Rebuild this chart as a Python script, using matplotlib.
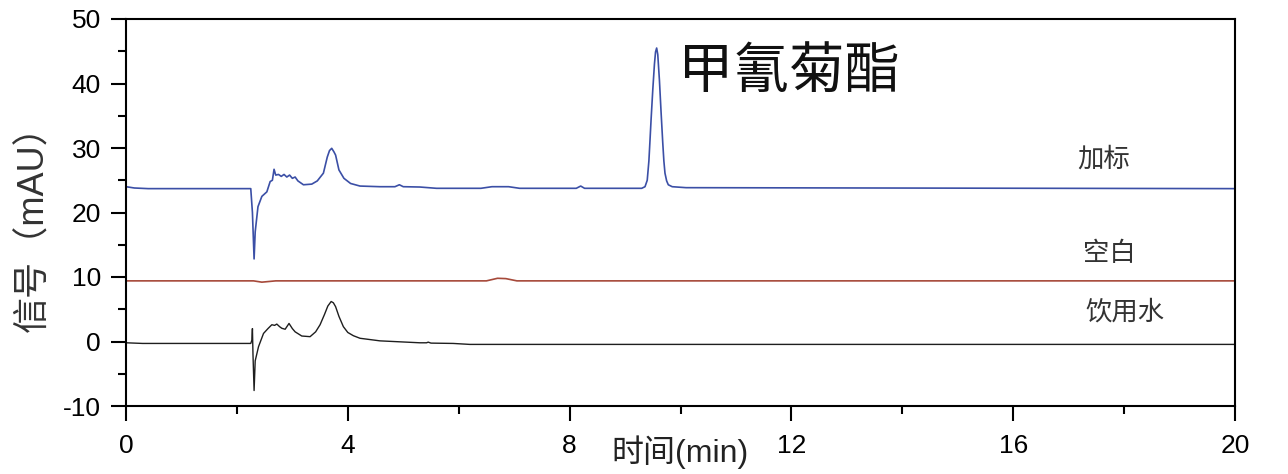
import matplotlib
matplotlib.use("Agg")
import matplotlib.pyplot as plt
from matplotlib.ticker import MultipleLocator

plt.rcParams['font.family'] = ['Liberation Sans', 'Noto Sans CJK SC', 'DejaVu Sans']
plt.rcParams['axes.unicode_minus'] = False

# retention time (min) / signal (mAU)
t_spiked = [0, 0.15, 0.4, 2.25, 2.28, 2.31, 2.33, 2.38, 2.45, 2.54, 2.6, 2.64,
            2.67, 2.7, 2.75, 2.8, 2.85, 2.9, 2.95, 3.0, 3.05, 3.1, 3.2, 3.35,
            3.45, 3.56, 3.63, 3.67, 3.71, 3.75, 3.78, 3.84, 3.93, 4.05, 4.22, 4.58, 4.85,
            4.93, 5.0, 5.3, 5.6, 6.4, 6.6, 6.9, 7.1, 8.12, 8.2, 8.27, 9.3, 9.36,
            9.4, 9.43, 9.45, 9.47, 9.5, 9.53, 9.55, 9.57, 9.59, 9.62, 9.65, 9.68,
            9.7, 9.72, 9.75, 9.78, 9.85, 10.1, 20]
sig_spiked = [24.0, 23.8, 23.7, 23.7, 20.0, 12.8, 17.0, 20.9, 22.5, 23.2, 24.8, 25.0,
              26.7, 25.8, 25.9, 25.6, 25.9, 25.5, 25.8, 25.3, 25.5, 24.9, 24.3, 24.4,
              24.9, 26.1, 28.6, 29.6, 29.95, 29.4, 28.9, 26.6, 25.3, 24.5, 24.1, 24.0, 24.0,
              24.3, 24.0, 23.95, 23.75, 23.75, 24.0, 24.0, 23.75, 23.75, 24.1, 23.75, 23.75, 24.0,
              25.0, 28.0, 31.2, 34.5, 39.0, 43.0, 44.9, 45.5, 44.5, 40.5, 35.5, 30.8,
              28.0, 26.1, 24.9, 24.3, 24.0, 23.85, 23.7]

t_blank = [0, 2.3, 2.45, 2.7, 6.5, 6.7, 6.85, 7.05, 20]
sig_blank = [9.4, 9.4, 9.2, 9.4, 9.4, 9.8, 9.75, 9.4, 9.4]

t_water = [0, 0.3, 2.25, 2.27, 2.28, 2.29, 2.31, 2.33, 2.39, 2.48, 2.56, 2.63,
           2.68, 2.72, 2.77, 2.81, 2.87, 2.94, 3.0, 3.05, 3.17, 3.32, 3.42, 3.5,
           3.58, 3.64, 3.7, 3.74, 3.78, 3.84, 3.92, 4.0, 4.1, 4.22, 4.58, 5.3, 5.42, 5.45,
           5.5, 5.9, 6.2, 20]
sig_water = [-0.2, -0.3, -0.3, 0.2, 2.0, -2.0, -7.6, -3.0, -0.8, 1.25, 2.0, 2.6,
             2.5, 2.7, 2.3, 2.05, 1.9, 2.8, 2.0, 1.5, 0.85, 0.75, 1.5, 2.6,
             4.2, 5.5, 6.2, 6.0, 5.4, 3.9, 2.3, 1.4, 0.9, 0.5, 0.1, -0.2, -0.2, -0.1,
             -0.25, -0.3, -0.45, -0.45]

labels = ['加标', '空白', '饮用水']
compound = '甲氰菊酯'

fig = plt.figure(figsize=(12.88, 4.74), dpi=100)
ax = fig.add_axes([126/1288, 1-406/474, (1235-126)/1288, (406-19)/474])

ax.plot(t_spiked, sig_spiked, color='#3b4fa6', lw=1.2)
ax.plot(t_blank, sig_blank, color='#a6493a', lw=1.2)
ax.plot(t_water, sig_water, color='#1e1e1e', lw=1.0)

ax.set_xlim(0, 20)
ax.set_ylim(-10, 50)
ax.xaxis.set_major_locator(MultipleLocator(4))
ax.xaxis.set_minor_locator(MultipleLocator(2))
ax.yaxis.set_major_locator(MultipleLocator(10))
ax.yaxis.set_minor_locator(MultipleLocator(5))
ax.tick_params(which='major', direction='out', length=11, width=1.5, labelsize=19, pad=7)
ax.tick_params(which='minor', direction='out', length=6, width=1.5)
ax.tick_params(axis='x', pad=9)
for s in ax.spines.values():
    s.set_linewidth(1.5)

ax.text(0.5, -0.119, '时间(min)', transform=ax.transAxes, ha='center', va='center',
        fontsize=23, color='#222222')
fig.text(34/1288, 1-220/474, '信号（mAU）', rotation=90, ha='center', va='center',
         fontsize=26, color='#333333')

ax.text(9.95, 41.8, compound, fontsize=40, va='center', ha='left',
        family=['Noto Sans CJK SC'], color='#111111')
ax.text(17.15, 28.3, labels[0], fontsize=19, va='center', color='#333333',
        family=['Noto Sans CJK SC'])
ax.text(17.26, 13.7, labels[1], fontsize=19, va='center', color='#333333',
        family=['Noto Sans CJK SC'])
ax.text(17.3, 4.6, labels[2], fontsize=19, va='center', color='#333333',
        family=['Noto Sans CJK SC'])

fig.savefig('out.png', dpi=100)
